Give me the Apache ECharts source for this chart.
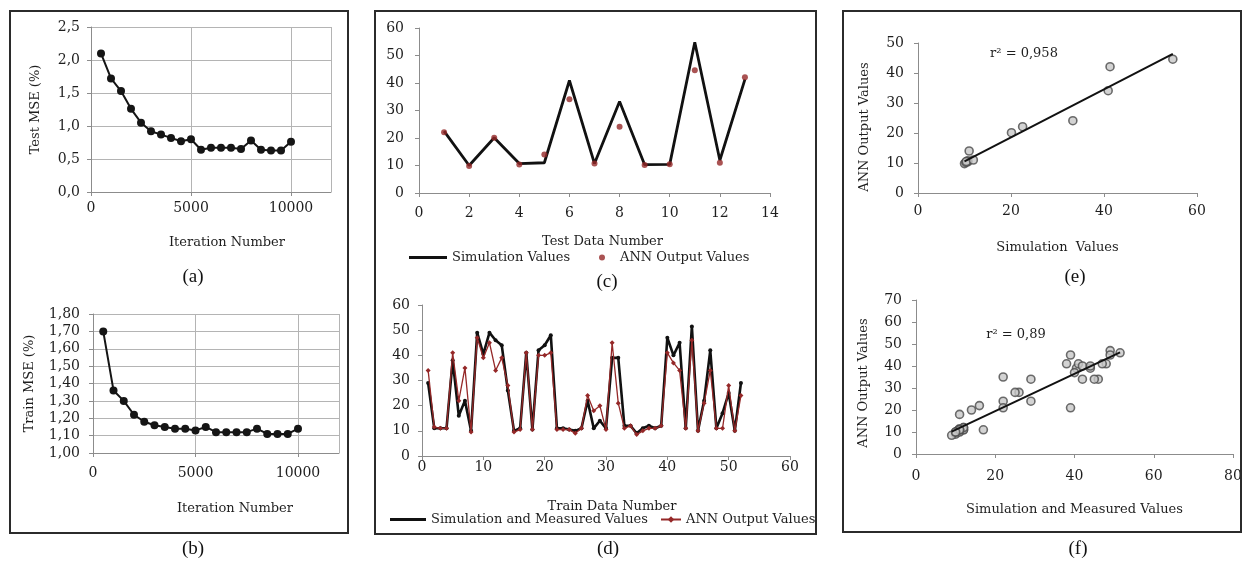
<!DOCTYPE html>
<html>
<head>
<meta charset="utf-8">
<title>ANN training and validation results</title>
<script src="https://cdn.jsdelivr.net/npm/echarts@6/dist/echarts.min.js"></script>
<style>
  html, body { margin: 0; padding: 0; background: #ffffff; }
  #chart { width: 1243px; height: 563px; }
</style>
</head>
<body>
<div id="chart"></div>
<script>
// ---- data -------------------------------------------------------------
// (a), (b): MSE against number of training iterations
const iterations = [500, 1000, 1500, 2000, 2500, 3000, 3500, 4000, 4500, 5000,
                    5500, 6000, 6500, 7000, 7500, 8000, 8500, 9000, 9500, 10000];
const testMse  = [2.10, 1.72, 1.53, 1.26, 1.05, 0.92, 0.87, 0.82, 0.77, 0.80,
                  0.64, 0.67, 0.67, 0.67, 0.65, 0.78, 0.64, 0.63, 0.63, 0.76];
const trainMse = [1.70, 1.36, 1.30, 1.22, 1.18, 1.16, 1.15, 1.14, 1.14, 1.13,
                  1.15, 1.12, 1.12, 1.12, 1.12, 1.14, 1.11, 1.11, 1.11, 1.14];

// (c), (e): test data set
const testNo  = [1, 2, 3, 4, 5, 6, 7, 8, 9, 10, 11, 12, 13];
const testSim = [22.5, 10.0, 20.1, 10.7, 11.0, 40.9, 10.7, 33.3, 10.3, 10.4, 54.8, 11.9, 41.3];
const testAnn = [22.1,  9.8, 20.1, 10.4, 14.0, 34.1, 10.7, 24.1, 10.2, 10.5, 44.6, 11.0, 42.1];

// (d), (f): training data set
const trainSim = [29, 11, 11, 11, 38, 16, 22, 10, 49, 40.5, 49, 46, 44, 26, 10, 11, 41, 10.5,
                  42, 44, 48, 11, 11, 10.5, 10, 11, 22, 11, 14, 11, 39, 39, 12, 12, 9, 11,
                  12, 11, 12, 47, 40, 45, 11, 51.5, 10, 22, 42, 11, 17, 25, 10, 29];
const trainAnn = [34, 11.5, 11, 11, 41, 22, 35, 9.5, 47, 39, 45, 34, 39, 28, 9.5, 10.5, 41, 10.5,
                  40, 40, 41, 10.5, 10.5, 10.5, 9, 11, 24, 18, 20, 10.5, 45, 21, 11, 12, 8.5, 10,
                  11, 11, 12, 41, 37, 34, 11, 46, 10, 21, 34, 11, 11, 28, 10, 24];
const trainNo = trainSim.map((_, i) => i + 1);

const panelLabels = ['(a)', '(b)', '(c)', '(d)', '(e)', '(f)'];
const r2Labels = ['r\u00b2 = 0,958', 'r\u00b2 = 0,89'];

// ---- helpers ----------------------------------------------------------
const SERIF = 'DejaVu Serif';
const TEXT = '#1e1e1e';
const AXIS = '#8c8c8c';
const GRIDLINE = '#b4b4b4';
const RED = '#952828';

const comma = d => v => v.toFixed(d).replace('.', ',');

function fitLine(xs, ys) {
  const n = xs.length;
  const mx = xs.reduce((a, b) => a + b, 0) / n;
  const my = ys.reduce((a, b) => a + b, 0) / n;
  let sxy = 0, sxx = 0;
  for (let i = 0; i < n; i++) { sxy += (xs[i] - mx) * (ys[i] - my); sxx += (xs[i] - mx) ** 2; }
  const k = sxy / sxx, b = my - k * mx;
  const x0 = Math.min(...xs), x1 = Math.max(...xs);
  return [[x0, k * x0 + b], [x1, k * x1 + b]];
}

function axis(gridIndex, min, max, interval, o = {}) {
  return Object.assign({
    type: 'value', gridIndex, min, max, interval,
    axisLine: { show: true, onZero: false, lineStyle: { color: AXIS, width: 1 } },
    axisTick: { show: true, length: 4, lineStyle: { color: AXIS } },
    axisLabel: { color: TEXT, fontFamily: SERIF, fontSize: 14, margin: 10,
                 formatter: o.fmt || (v => String(v)), showMaxLabel: o.showMax !== false },
    splitLine: { show: !!o.split, lineStyle: { color: GRIDLINE, width: 1 } },
    nameTextStyle: { color: TEXT, fontFamily: SERIF, fontSize: 13 }
  }, o.extra || {});
}

function pairs(xs, ys) { return xs.map((x, i) => [x, ys[i]]); }

const nameStyle = pad => ({ color: TEXT, fontFamily: SERIF, fontSize: 13, padding: pad });

// ---- layout of the six plots -----------------------------------------
const grids = [
  { left: 91,  top: 27,  width: 240, height: 165 },   // a
  { left: 93,  top: 314, width: 246, height: 139 },   // b
  { left: 419, top: 28,  width: 351, height: 165 },   // c
  { left: 422, top: 305, width: 368, height: 151 },   // d
  { left: 918, top: 43,  width: 279, height: 150 },   // e
  { left: 916, top: 300, width: 317, height: 154 }    // f
].map(g => Object.assign({ containLabel: false, outerBoundsMode: 'none' }, g));

const xAxes = [
  axis(0, 0, 12000, 5000, { split: true, showMax: false, extra: {
    name: 'Iteration Number', nameLocation: 'middle', nameGap: 44, nameTextStyle: nameStyle([0, 0, 0, 32]) } }),
  axis(1, 0, 12000, 5000, { split: true, showMax: false, extra: {
    name: 'Iteration Number', nameLocation: 'middle', nameGap: 49, nameTextStyle: nameStyle([0, 0, 0, 38]) } }),
  axis(2, 0, 14, 2, { extra: {
    name: 'Test Data Number', nameLocation: 'middle', nameGap: 42, nameTextStyle: nameStyle([0, 0, 0, 16]) } }),
  axis(3, 0, 60, 10, { extra: {
    name: 'Train Data Number', nameLocation: 'middle', nameGap: 44, nameTextStyle: nameStyle([0, 0, 0, 12]) } }),
  axis(4, 0, 60, 20, { extra: {
    name: 'Simulation  Values', nameLocation: 'middle', nameGap: 48, nameTextStyle: nameStyle(0) } }),
  axis(5, 0, 80, 20, { extra: {
    name: 'Simulation and Measured Values', nameLocation: 'middle', nameGap: 49, nameTextStyle: nameStyle(0) } })
];
xAxes[0].axisLabel.margin = 9;
xAxes[1].axisLabel.margin = 13;
xAxes[2].axisLabel.margin = 13;
xAxes[3].axisLabel.margin = 4;
xAxes[4].axisLabel.margin = 11;
xAxes[5].axisLabel.margin = 15;

const yAxes = [
  axis(0, 0, 2.5, 0.5, { split: true, fmt: comma(1), extra: {
    name: 'Test MSE (%)', nameLocation: 'middle', nameGap: 49, nameTextStyle: nameStyle(0) } }),
  axis(1, 1, 1.8, 0.1, { split: true, fmt: comma(2), extra: {
    name: 'Train MSE (%)', nameLocation: 'middle', nameGap: 57, nameTextStyle: nameStyle(0) } }),
  axis(2, 0, 60, 10),
  axis(3, 0, 60, 10),
  axis(4, 0, 50, 10, { extra: {
    name: 'ANN Output Values', nameLocation: 'middle', nameGap: 47, nameTextStyle: nameStyle([0, 18, 0, 0]) } }),
  axis(5, 0, 70, 10, { extra: {
    name: 'ANN Output Values', nameLocation: 'middle', nameGap: 46, nameTextStyle: nameStyle([0, 12, 0, 0]) } })
];
yAxes[0].axisLabel.margin = 11;
yAxes[1].axisLabel.margin = 13;
yAxes[2].axisLabel.margin = 15;
yAxes[3].axisLabel.margin = 12;
yAxes[4].axisLabel.margin = 14;
yAxes[5].axisLabel.margin = 14;

// ---- series -----------------------------------------------------------
const blackDots = (xi, data, name) => ({
  name, type: 'line', xAxisIndex: xi, yAxisIndex: xi, data,
  symbol: 'circle', symbolSize: 8, showSymbol: true,
  lineStyle: { color: '#151515', width: 2 }, itemStyle: { color: '#151515' }, z: 3
});

const ringStyle = { color: '#c8c8c8', borderColor: '#4a4a4a', borderWidth: 1.6 };

const series = [
  blackDots(0, pairs(iterations, testMse), 'Test MSE'),
  blackDots(1, pairs(iterations, trainMse), 'Train MSE'),
  {
    name: 'Simulation Values', type: 'line', xAxisIndex: 2, yAxisIndex: 2,
    data: pairs(testNo, testSim), symbol: 'none',
    lineStyle: { color: '#111111', width: 2.8 }, itemStyle: { color: '#111111' }, z: 2
  },
  {
    name: 'ANN Output Values', type: 'scatter', xAxisIndex: 2, yAxisIndex: 2,
    data: pairs(testNo, testAnn), symbol: 'circle', symbolSize: 6,
    itemStyle: { color: RED }, z: 3
  },
  {
    name: 'Simulation and Measured Values', type: 'line', xAxisIndex: 3, yAxisIndex: 3,
    data: pairs(trainNo, trainSim), symbol: 'circle', symbolSize: 4,
    lineStyle: { color: '#111111', width: 2.6 }, itemStyle: { color: '#111111' }, z: 2
  },
  {
    name: 'ANN Output Values (train)', type: 'line', xAxisIndex: 3, yAxisIndex: 3,
    data: pairs(trainNo, trainAnn), symbol: 'diamond', symbolSize: 5,
    lineStyle: { color: RED, width: 1.3 }, itemStyle: { color: RED }, z: 3
  },
  {
    name: 'Test points', type: 'scatter', xAxisIndex: 4, yAxisIndex: 4,
    data: pairs(testSim, testAnn), symbolSize: 8, itemStyle: ringStyle, z: 2
  },
  {
    name: 'Test fit', type: 'line', xAxisIndex: 4, yAxisIndex: 4,
    data: fitLine(testSim, testAnn), symbol: 'none',
    lineStyle: { color: '#111111', width: 2 }, z: 3
  },
  {
    name: 'Train points', type: 'scatter', xAxisIndex: 5, yAxisIndex: 5,
    data: pairs(trainSim, trainAnn), symbolSize: 8, itemStyle: ringStyle, z: 2
  },
  {
    name: 'Train fit', type: 'line', xAxisIndex: 5, yAxisIndex: 5,
    data: fitLine(trainSim, trainAnn), symbol: 'none',
    lineStyle: { color: '#111111', width: 2 }, z: 3
  }
];

// ---- legends ----------------------------------------------------------
const legendText = { color: TEXT, fontFamily: SERIF, fontSize: 13 };
const legend = [
  { left: 409, top: 251, padding: 0, itemWidth: 38, itemHeight: 14, selectedMode: false,
    data: [{ name: 'Simulation Values', icon: 'path://M0,0L38,0L38,3L0,3Z' }], textStyle: legendText },
  { left: 599, top: 251, padding: 0, itemWidth: 10, itemHeight: 6, selectedMode: false,
    data: [{ name: 'ANN Output Values', icon: 'circle' }],
    textStyle: Object.assign({ padding: [0, 0, 0, 8] }, legendText) },
  { left: 390, top: 513, padding: 0, itemWidth: 36, itemHeight: 14, selectedMode: false,
    data: [{ name: 'Simulation and Measured Values', icon: 'path://M0,0L36,0L36,3L0,3Z' }], textStyle: legendText },
  { left: 660, top: 513, padding: 0, itemWidth: 20, itemHeight: 8, selectedMode: false,
    data: ['ANN Output Values (train)'], formatter: () => 'ANN Output Values', textStyle: legendText }
];

// ---- frames, panel letters and r² notes ---------------------------------
const frames = [[10, 11, 338, 522], [375, 11, 441, 523], [843, 11, 398, 521]];
const labelPos = [[193, 277], [193, 549], [607, 282], [608, 549], [1075, 277], [1078, 549]];
const graphic = [
  ...frames.map(([x, y, w, h]) => ({
    type: 'rect', shape: { x, y, width: w, height: h }, silent: true, z: 100,
    style: { fill: 'none', stroke: '#2b2b2b', lineWidth: 2 }
  })),
  ...panelLabels.map((t, i) => ({
    type: 'text', x: labelPos[i][0], y: labelPos[i][1], silent: true, z: 100,
    style: { text: t, fill: '#111111', font: '19px "Liberation Serif"', align: 'center', verticalAlign: 'middle' }
  })),
  ...r2Labels.map((t, i) => ({
    type: 'text', x: i === 0 ? 1024 : 1016, y: i === 0 ? 54 : 335, silent: true, z: 100,
    style: { text: t, fill: TEXT, font: '13px "DejaVu Serif"', align: 'center', verticalAlign: 'middle' }
  }))
];

const chart = echarts.init(document.getElementById('chart'), null, { renderer: 'canvas' });
chart.setOption({
  animation: false,
  backgroundColor: '#ffffff',
  grid: grids,
  xAxis: xAxes,
  yAxis: yAxes,
  legend,
  series,
  graphic
});
</script>
</body>
</html>
